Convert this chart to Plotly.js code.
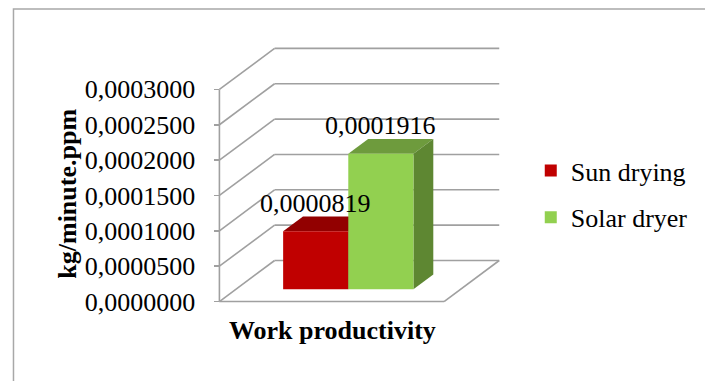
<!DOCTYPE html>
<html>
<head>
<meta charset="utf-8">
<script src="https://cdn.plot.ly/plotly-3.0.1.min.js"></script>
<style>
  html, body { margin: 0; padding: 0; background: #ffffff; }
  #chart { width: 705px; height: 381px; }
</style>
</head>
<body>
<div id="chart"></div>
<script>
// ---- data ----
const categories = ['Work productivity'];
const seriesNames = ['Sun drying', 'Solar dryer'];
const sunDrying = [0.0000819];
const solarDryer = [0.0001916];
const tickVals = [0, 0.00005, 0.0001, 0.00015, 0.0002, 0.00025, 0.0003];
const tickText = ['0,0000000', '0,0000500', '0,0001000', '0,0001500',
                  '0,0002000', '0,0002500', '0,0003000'];
const yAxisTitle = 'kg/minute.ppm';

// ---- styling ----
const frontColors = ['#C00000', '#92D050'];
const topColors   = ['#920000', '#6E9B3D'];
const sideColors  = ['#7A0000', '#5E8732'];
const gridColor = '#a0a0a0';
const serif = 'Liberation Serif, Times New Roman, serif';

// ---- page geometry (pixels) ----
const W = 705, H = 381;
const mL = 180, mR = 185, mT = 30, mB = 71;
const plotW = W - mL - mR, plotH = H - mT - mB;
const axisPx = 220;          // front vertical axis
const floorPx = 228;         // floor width in pixels = 1 unit on x
const px2u = p => (p - axisPx) / floorPx;
const pxX = p => (p - mL) / plotW;
const pxY = p => 1 - (p - mT) / plotH;

// oblique depth: full floor depth shifts right by DX (x units) and up by DV (value units)
const DX = 56 / floorPx;
const DV = 0.000058;
const Y_MIN = -0.000012, Y_MAX = 0.000384;

// bars occupy this slice of the depth
const wFront = 0.3, wBack = 0.66;
const barW = 0.29, barStart = 0.21;

// ---- walls & floor ----
const shapes = [];
function line(x0, y0, x1, y1) {
  shapes.push({type: 'line', xref: 'x', yref: 'y', layer: 'below',
    x0: x0, y0: y0, x1: x1, y1: y1,
    line: {color: gridColor, width: 1.6}});
}
tickVals.forEach(v => {
  line(0, v, DX, v + DV);          // side wall diagonal
  line(DX, v + DV, 1 + DX, v + DV); // back wall gridline
});
line(0, 0, 0, tickVals[tickVals.length - 1]); // front value axis
line(0, 0, 1, 0);                              // floor front edge
line(1, 0, 1 + DX, DV);                        // floor right edge

// chart-area border
shapes.push({type: 'rect', xref: 'paper', yref: 'paper', layer: 'below',
  x0: pxX(11), x1: pxX(760), y0: pxY(420), y1: pxY(9),
  line: {color: '#a8a8a8', width: 1.5}, fillcolor: 'rgba(0,0,0,0)'});

// ---- bars ----
const seriesValues = [sunDrying, solarDryer];
const traces = [];
const annotations = [];
const dxBar = (wBack - wFront) * DX;
const dvBar = (wBack - wFront) * DV;
const path = pts => 'M' + pts.map(p => p[0] + ',' + p[1]).join(' L') + ' Z';

seriesValues.forEach((vals, s) => {
  const xs = [], bases = [];
  vals.forEach((v, c) => {
    const xl = c + barStart + s * barW + wFront * DX;
    const xr = xl + barW;
    const base = wFront * DV;
    const top = base + v;
    xs.push(xl + barW / 2);
    bases.push(base);
    // top face
    shapes.push({type: 'path', xref: 'x', yref: 'y', layer: 'below',
      path: path([[xl, top], [xr, top], [xr + dxBar, top + dvBar], [xl + dxBar, top + dvBar]]),
      fillcolor: topColors[s], line: {width: 0}});
    // side face
    shapes.push({type: 'path', xref: 'x', yref: 'y', layer: 'below',
      path: path([[xr, base], [xr, top], [xr + dxBar, top + dvBar], [xr + dxBar, base + dvBar]]),
      fillcolor: sideColors[s], line: {width: 0}});
    // value label above the bar
    annotations.push({xref: 'x', yref: 'y', x: xl + barW / 2, y: top + dvBar,
      text: v.toFixed(7).replace('.', ','), showarrow: false,
      xanchor: 'center', yanchor: 'bottom', yshift: -3,
      font: {family: serif, size: 26, color: '#000000'}});
  });
  traces.push({type: 'bar', name: seriesNames[s], x: xs, y: vals, base: bases,
    width: xs.map(() => barW), marker: {color: frontColors[s], line: {width: 0}},
    hoverinfo: 'skip', legendgroup: 'g' + s});
});

// axis titles
annotations.push({xref: 'paper', yref: 'paper', x: pxX(65), y: pxY(194),
  text: yAxisTitle, textangle: -90, showarrow: false,
  xanchor: 'center', yanchor: 'middle',
  font: {family: serif, size: 26, color: '#000000', weight: 'bold'}});
annotations.push({xref: 'paper', yref: 'paper', x: pxX(335), y: pxY(330),
  text: categories[0], showarrow: false, xanchor: 'center', yanchor: 'middle',
  font: {family: serif, size: 26, color: '#000000', weight: 'bold'}});

const layout = {
  width: W, height: H,
  margin: {l: mL, r: mR, t: mT, b: mB, pad: 0},
  paper_bgcolor: '#ffffff', plot_bgcolor: 'rgba(0,0,0,0)',
  barmode: 'overlay',
  showlegend: true,
  legend: {x: pxX(536), y: pxY(147), xanchor: 'left', yanchor: 'top',
    font: {family: serif, size: 26, color: '#000000'},
    bgcolor: 'rgba(0,0,0,0)', tracegroupgap: 10, itemclick: false},
  xaxis: {range: [px2u(mL), px2u(mL + plotW)], visible: false, fixedrange: true},
  yaxis: {range: [Y_MIN, Y_MAX], anchor: 'free', position: pxX(axisPx),
    tickvals: tickVals, ticktext: tickText,
    ticks: 'outside', ticklen: 5, tickwidth: 1.5, tickcolor: gridColor,
    ticklabelstandoff: 14,
    showgrid: false, zeroline: false, showline: false, fixedrange: true,
    tickfont: {family: serif, size: 26, color: '#000000'}},
  shapes: shapes,
  annotations: annotations
};

Plotly.newPlot('chart', traces, layout, {staticPlot: true, displayModeBar: false});
</script>
</body>
</html>
